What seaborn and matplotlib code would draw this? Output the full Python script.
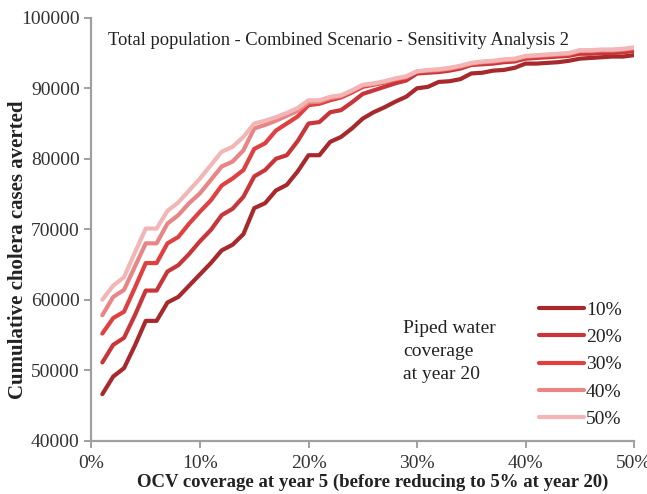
import pandas as pd
import seaborn as sns
import matplotlib.pyplot as plt

# OCV coverage at year 5 (%)
ocv_cov = list(range(1, 51))

# cumulative cases averted, one list per piped water coverage level
pw_10 = [46600, 49100, 50300, 53500, 57000, 57000, 59600, 60400, 62000, 63600,
         65200, 67000, 67800, 69300, 73000, 73700, 75500, 76300, 78200, 80500,
         80500, 82400, 83100, 84300, 85700, 86600, 87300, 88100, 88800, 90000,
         90200, 90900, 91000, 91300, 92100, 92200, 92500, 92600, 92900, 93500,
         93500, 93600, 93700, 93900, 94200, 94300, 94400, 94500, 94500, 94700]
pw_20 = [51100, 53600, 54600, 57800, 61300, 61300, 64000, 64900, 66500, 68300,
         69900, 72000, 72900, 74600, 77500, 78400, 80000, 80500, 82500, 85000,
         85200, 86600, 86900, 88000, 89200, 89700, 90200, 90700, 91100, 92100,
         92200, 92300, 92500, 92800, 93300, 93400, 93500, 93700, 93800, 94200,
         94300, 94400, 94500, 94600, 94900, 94900, 95000, 95000, 95100, 95300]
pw_30 = [55200, 57400, 58300, 61700, 65200, 65200, 68000, 68900, 70800, 72500,
         74100, 76200, 77200, 78400, 81400, 82200, 84000, 85000, 86000, 87600,
         87800, 88300, 88700, 89400, 90200, 90500, 90800, 91200, 91500, 92300,
         92400, 92500, 92700, 93000, 93400, 93600, 93700, 93900, 94000, 94400,
         94500, 94600, 94700, 94800, 95200, 95200, 95300, 95300, 95400, 95600]
pw_40 = [57800, 60400, 61400, 64700, 68000, 68000, 70800, 72000, 73700, 75100,
         77000, 78900, 79600, 81200, 84300, 84800, 85400, 86100, 86800, 88000,
         88100, 88600, 88900, 89600, 90400, 90600, 90900, 91300, 91600, 92400,
         92500, 92600, 92800, 93100, 93500, 93700, 93800, 94000, 94100, 94500,
         94600, 94700, 94800, 94900, 95300, 95300, 95400, 95400, 95500, 95700]
pw_50 = [60000, 62000, 63200, 66700, 70100, 70100, 72600, 73800, 75500, 77200,
         79100, 81000, 81700, 83100, 85000, 85400, 85900, 86500, 87200, 88300,
         88300, 88800, 89000, 89700, 90500, 90700, 91000, 91400, 91700, 92400,
         92600, 92700, 92900, 93200, 93600, 93800, 93900, 94100, 94200, 94600,
         94700, 94800, 94900, 95000, 95400, 95400, 95500, 95500, 95600, 95800]

pw_labels = ["10%", "20%", "30%", "40%", "50%"]
pw_colors = ["#a8292b", "#c8363a", "#e0403f", "#e88585", "#f2b6b6"]
x_ticks = [0, 10, 20, 30, 40, 50]
y_ticks = [40000, 50000, 60000, 70000, 80000, 90000, 100000]

frames = []
for lab, vals in zip(pw_labels, [pw_10, pw_20, pw_30, pw_40, pw_50]):
    frames.append(pd.DataFrame({"ocv": ocv_cov, "averted": vals, "pw": lab}))
df = pd.concat(frames, ignore_index=True)

sns.set_style("ticks")
plt.rcParams["font.family"] = ["Liberation Serif", "DejaVu Serif"]

fig = plt.figure(figsize=(6.47, 4.94), dpi=100)
ax = fig.add_axes([0.1414, 0.1079, 0.8386, 0.8561])

sns.lineplot(data=df, x="ocv", y="averted", hue="pw", hue_order=pw_labels,
             palette=pw_colors, linewidth=3, ax=ax)

ax.set_xlim(0, 50)
ax.set_ylim(40000, 100000)
ax.set_xticks(x_ticks)
ax.set_xticklabels([f"{t}%" for t in x_ticks])
ax.set_yticks(y_ticks)
ax.set_yticklabels([str(t) for t in y_ticks])
ax.tick_params(colors="#999999", labelcolor="#333333", labelsize=14,
               length=5, width=1.3, direction="out")
ax.tick_params(axis="x", pad=5)

for s in ["top", "right"]:
    ax.spines[s].set_visible(False)
for s in ["left", "bottom"]:
    ax.spines[s].set_color("#a0a0a0")
    ax.spines[s].set_linewidth(1.6)

ax.set_xlabel("OCV coverage at year 5 (before reducing to 5% at year 20)",
              fontsize=13.5, fontweight="bold", color="#222222")
ax.xaxis.set_label_coords(0.518, -0.078)
ax.set_ylabel("")
# y label sits a bit below the axes centre in the original
fig.text(0.028, 0.494, "Cumulative cholera cases averted", rotation=90,
         ha="center", va="center", fontsize=15, fontweight="bold", color="#222222")

ax.text(0.456, 0.947, "Total population - Combined Scenario - Sensitivity Analysis 2",
        transform=ax.transAxes, ha="center", va="center", fontsize=13.3,
        color="#222222")
ax.text(0.574, 0.285, "Piped water\ncoverage\nat year 20", transform=ax.transAxes,
        ha="left", va="top", fontsize=14, color="#222222", linespacing=1.45)

ax.legend(loc="upper left", bbox_to_anchor=(0.825, 0.33), frameon=False,
          fontsize=14, handlelength=2.3, handletextpad=0.1,
          borderpad=0, borderaxespad=0, labelspacing=0.5, labelcolor="#222222")

plt.savefig("out.png", dpi=100)
